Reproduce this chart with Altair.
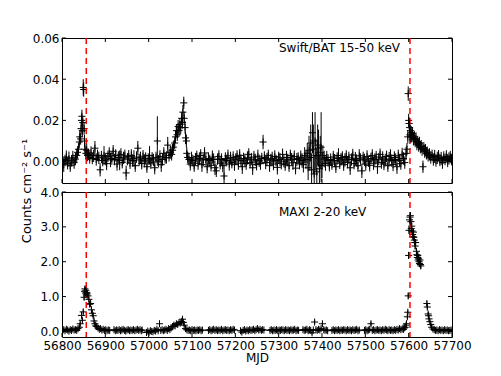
import altair as alt
import pandas as pd

# ---------------- data ----------------
x_ticks = [56800, 56900, 57000, 57100, 57200, 57300, 57400, 57500, 57600, 57700]
bat_ticks = [0.0, 0.02, 0.04, 0.06]
maxi_ticks = [0.0, 1.0, 2.0, 3.0, 4.0]
outburst_mjd = [56856, 57603]

bat_label = "Swift/BAT 15-50 keV"
maxi_label = "MAXI 2-20 keV"
y_title = "Counts cm\u207b\u00b2 s\u207b\u00b9"

bat_mjd = [
    56801, 56804, 56807, 56810, 56813, 56816, 56819, 56822, 56825, 56828,
    56831, 56834, 56836, 56838, 56840, 56841, 56843, 56844, 56845, 56846,
    56847, 56848, 56849, 56850, 56851, 56852, 56853, 56855, 56857, 56859,
    56861, 56864, 56867, 56870, 56873, 56876, 56879, 56882, 56885, 56888,
    56891, 56894, 56897, 56900, 56903, 56906, 56909, 56912, 56915, 56918,
    56921, 56924, 56927, 56930, 56933, 56936, 56939, 56942, 56945, 56948,
    56951, 56954, 56957, 56960, 56963, 56966, 56969, 56972, 56975, 56978,
    56981, 56984, 56987, 56990, 56993, 56996, 56999, 57002, 57005, 57008,
    57011, 57014, 57017, 57020, 57023, 57026, 57029, 57032, 57035, 57038,
    57041, 57044, 57047, 57050, 57053, 57055, 57057, 57060, 57062, 57064,
    57066, 57068, 57070, 57072, 57074, 57076, 57078, 57079, 57081, 57082,
    57084, 57085, 57087, 57088, 57090, 57093, 57096, 57099, 57102, 57105,
    57108, 57111, 57114, 57117, 57120, 57123, 57126, 57129, 57132, 57135,
    57138, 57141, 57144, 57147, 57150, 57153, 57156, 57159, 57162, 57165,
    57168, 57171, 57174, 57177, 57180, 57183, 57186, 57189, 57192, 57195,
    57198, 57201, 57204, 57207, 57210, 57213, 57216, 57219, 57222, 57225,
    57228, 57231, 57234, 57237, 57240, 57243, 57246, 57249, 57252, 57255,
    57258, 57261, 57264, 57267, 57270, 57273, 57276, 57279, 57282, 57285,
    57288, 57291, 57294, 57297, 57300, 57303, 57306, 57309, 57312, 57315,
    57318, 57321, 57324, 57327, 57330, 57333, 57336, 57339, 57342, 57345,
    57348, 57351, 57354, 57357, 57360, 57363, 57366, 57368, 57370, 57372,
    57374, 57376, 57378, 57380, 57382, 57384, 57386, 57388, 57390, 57392,
    57394, 57396, 57398, 57400, 57402, 57405, 57408, 57411, 57414, 57417,
    57420, 57423, 57426, 57429, 57432, 57435, 57438, 57441, 57444, 57447,
    57450, 57453, 57456, 57459, 57462, 57465, 57468, 57471, 57474, 57477,
    57480, 57483, 57486, 57489, 57492, 57495, 57498, 57501, 57504, 57507,
    57510, 57513, 57516, 57519, 57522, 57525, 57528, 57531, 57534, 57537,
    57540, 57543, 57546, 57549, 57552, 57555, 57558, 57561, 57564, 57567,
    57570, 57573, 57576, 57579, 57582, 57585, 57588, 57591, 57594, 57596,
    57598, 57599, 57600, 57601, 57602, 57603, 57604, 57605, 57606, 57607,
    57609, 57611, 57613, 57615, 57617, 57619, 57621, 57623, 57625, 57627,
    57629, 57631, 57633, 57635, 57637, 57639, 57641, 57643, 57645, 57648,
    57651, 57654, 57657, 57660, 57663, 57666, 57669, 57672, 57675, 57678,
    57681, 57684, 57687, 57690, 57693, 57696, 57699,
]

bat_rate = [
    0.0010, -0.0015, 0.0005, 0.0022, -0.0008, 0.0013, -0.0020, 0.0004, 0.0018, -0.0005,
    0.0012, 0.0030, 0.0045, 0.0060, 0.0095, 0.0120, 0.0110, 0.0160, 0.0200, 0.0220,
    0.0150, 0.0190, 0.0360, 0.0350, 0.0160, 0.0100, 0.0060, 0.0040, 0.0055, 0.0030,
    0.0035, 0.0020, 0.0042, 0.0015, 0.0028, 0.0065, 0.0010, 0.0030, 0.0018, -0.0040,
    0.0022, 0.0005, 0.0030, 0.0012, -0.0010, 0.0025, 0.0040, 0.0008, 0.0015, 0.0050,
    0.0010, 0.0030, -0.0012, 0.0020, 0.0006, 0.0035, -0.0005, 0.0018, 0.0028, -0.0055,
    0.0012, 0.0024, -0.0008, 0.0030, 0.0005, 0.0015, -0.0020, 0.0022, 0.0065, 0.0008,
    0.0018, -0.0010, 0.0026, 0.0004, 0.0015, -0.0025, 0.0012, 0.0030, -0.0006, 0.0016,
    0.0008, -0.0030, 0.0020, 0.0100, 0.0002, 0.0025, -0.0015, 0.0010, 0.0040, 0.0018,
    0.0020, 0.0080, 0.0030, 0.0045, 0.0035, 0.0055, 0.0070, 0.0090, 0.0120, 0.0150,
    0.0130, 0.0170, 0.0150, 0.0180, 0.0165, 0.0210, 0.0190, 0.0240, 0.0285, 0.0210,
    0.0165, 0.0115, 0.0100, 0.0040, 0.0020, 0.0010, -0.0012, 0.0018, 0.0005, -0.0020,
    0.0012, 0.0025, -0.0008, 0.0015, 0.0030, -0.0015, 0.0008, 0.0042, 0.0010, -0.0025,
    0.0015, 0.0005, -0.0018, 0.0022, 0.0010, -0.0030, -0.0045, 0.0012, 0.0025, -0.0008,
    0.0010, -0.0020, -0.0070, 0.0015, 0.0005, 0.0028, -0.0012, 0.0018, -0.0005, 0.0020,
    -0.0015, 0.0012, 0.0025, -0.0008, 0.0030, 0.0005, -0.0025, 0.0015, 0.0008, -0.0010,
    0.0018, 0.0035, -0.0005, 0.0012, -0.0030, 0.0022, 0.0008, -0.0015, 0.0026, 0.0004,
    -0.0010, 0.0015, 0.0095, 0.0020, -0.0005, 0.0012, 0.0030, -0.0020, 0.0008, 0.0016,
    -0.0012, 0.0025, 0.0005, -0.0028, 0.0018, 0.0010, -0.0008, 0.0035, 0.0002, -0.0015,
    0.0020, 0.0008, -0.0020, 0.0030, 0.0012, -0.0006, 0.0024, -0.0032, 0.0010, 0.0015,
    -0.0008, 0.0022, 0.0005, -0.0015, 0.0030, 0.0010, 0.0040, -0.0030, 0.0055, 0.0020,
    0.0090, -0.0040, 0.0140, 0.0060, -0.0060, 0.0100, 0.0030, -0.0050, 0.0080, 0.0065,
    -0.0035, 0.0045, 0.0070, -0.0020, 0.0030, 0.0012, -0.0010, 0.0020, 0.0006, -0.0018,
    0.0010, -0.0012, 0.0022, 0.0005, -0.0025, 0.0015, 0.0030, -0.0008, 0.0012, 0.0020,
    -0.0015, 0.0008, 0.0025, -0.0005, 0.0018, -0.0030, 0.0010, 0.0032, -0.0010, 0.0015,
    0.0005, -0.0020, 0.0028, 0.0012, -0.0045, 0.0018, 0.0008, -0.0012, 0.0025, 0.0002,
    -0.0018, 0.0015, 0.0030, -0.0008, 0.0010, 0.0022, -0.0025, 0.0012, 0.0035, -0.0005,
    0.0018, -0.0012, 0.0008, 0.0025, -0.0020, 0.0012, 0.0030, 0.0005, -0.0015, 0.0020,
    0.0010, -0.0025, 0.0028, 0.0006, -0.0010, 0.0035, 0.0015, -0.0005, 0.0040, 0.0060,
    0.0120, 0.0330, 0.0200, 0.0185, 0.0165, 0.0130, 0.0150, 0.0120, 0.0140, 0.0125,
    0.0135, 0.0110, 0.0120, 0.0100, 0.0110, 0.0085, 0.0095, 0.0080, 0.0090, 0.0070,
    0.0075, 0.0060, -0.0025, 0.0065, 0.0050, 0.0055, 0.0040, 0.0045, 0.0030, 0.0035,
    0.0020, 0.0030, 0.0010, 0.0025, 0.0005, 0.0018, 0.0028, 0.0008, 0.0015, -0.0005,
    0.0020, 0.0010, 0.0025, 0.0005, 0.0015, 0.0022, 0.0010,
]

bat_err = [
    0.0030, 0.0035, 0.0028, 0.0032, 0.0030, 0.0036, 0.0030, 0.0028, 0.0034, 0.0030,
    0.0030, 0.0032, 0.0030, 0.0030, 0.0030, 0.0032, 0.0028, 0.0030, 0.0030, 0.0032,
    0.0030, 0.0030, 0.0040, 0.0035, 0.0030, 0.0030, 0.0028, 0.0030, 0.0030, 0.0028,
    0.0028, 0.0030, 0.0032, 0.0028, 0.0030, 0.0035, 0.0030, 0.0028, 0.0030, 0.0032,
    0.0030, 0.0028, 0.0045, 0.0030, 0.0032, 0.0028, 0.0030, 0.0035, 0.0030, 0.0030,
    0.0028, 0.0030, 0.0032, 0.0030, 0.0048, 0.0030, 0.0028, 0.0030, 0.0030, 0.0035,
    0.0030, 0.0032, 0.0028, 0.0030, 0.0030, 0.0040, 0.0030, 0.0028, 0.0035, 0.0030,
    0.0030, 0.0028, 0.0030, 0.0032, 0.0030, 0.0030, 0.0028, 0.0045, 0.0030, 0.0030,
    0.0030, 0.0032, 0.0028, 0.0120, 0.0030, 0.0030, 0.0035, 0.0030, 0.0030, 0.0028,
    0.0030, 0.0040, 0.0030, 0.0032, 0.0030, 0.0030, 0.0032, 0.0030, 0.0030, 0.0032,
    0.0030, 0.0032, 0.0030, 0.0030, 0.0032, 0.0030, 0.0030, 0.0035, 0.0030, 0.0032,
    0.0030, 0.0030, 0.0032, 0.0030, 0.0028, 0.0030, 0.0032, 0.0030, 0.0028, 0.0030,
    0.0030, 0.0028, 0.0032, 0.0030, 0.0030, 0.0035, 0.0030, 0.0028, 0.0030, 0.0032,
    0.0030, 0.0028, 0.0030, 0.0032, 0.0030, 0.0035, 0.0030, 0.0028, 0.0030, 0.0030,
    0.0030, 0.0032, 0.0080, 0.0030, 0.0028, 0.0030, 0.0032, 0.0030, 0.0028, 0.0030,
    0.0030, 0.0028, 0.0030, 0.0032, 0.0030, 0.0030, 0.0035, 0.0028, 0.0030, 0.0030,
    0.0032, 0.0030, 0.0028, 0.0030, 0.0035, 0.0030, 0.0030, 0.0028, 0.0032, 0.0030,
    0.0030, 0.0028, 0.0035, 0.0030, 0.0032, 0.0030, 0.0028, 0.0030, 0.0030, 0.0032,
    0.0030, 0.0030, 0.0028, 0.0035, 0.0030, 0.0032, 0.0030, 0.0028, 0.0030, 0.0030,
    0.0032, 0.0030, 0.0030, 0.0028, 0.0030, 0.0035, 0.0030, 0.0030, 0.0032, 0.0030,
    0.0030, 0.0032, 0.0035, 0.0038, 0.0040, 0.0045, 0.0050, 0.0060, 0.0070, 0.0065,
    0.0090, 0.0080, 0.0100, 0.0120, 0.0090, 0.0140, 0.0080, 0.0110, 0.0100, 0.0090,
    0.0070, 0.0080, 0.0170, 0.0060, 0.0050, 0.0040, 0.0035, 0.0032, 0.0030, 0.0030,
    0.0030, 0.0028, 0.0030, 0.0032, 0.0030, 0.0030, 0.0035, 0.0028, 0.0030, 0.0030,
    0.0030, 0.0032, 0.0030, 0.0028, 0.0030, 0.0035, 0.0030, 0.0030, 0.0028, 0.0032,
    0.0030, 0.0030, 0.0032, 0.0028, 0.0035, 0.0030, 0.0030, 0.0032, 0.0030, 0.0028,
    0.0030, 0.0028, 0.0030, 0.0032, 0.0030, 0.0030, 0.0035, 0.0030, 0.0028, 0.0030,
    0.0032, 0.0030, 0.0030, 0.0028, 0.0030, 0.0035, 0.0030, 0.0030, 0.0032, 0.0030,
    0.0030, 0.0035, 0.0030, 0.0028, 0.0030, 0.0032, 0.0030, 0.0030, 0.0032, 0.0030,
    0.0032, 0.0035, 0.0032, 0.0030, 0.0030, 0.0032, 0.0030, 0.0030, 0.0032, 0.0030,
    0.0030, 0.0032, 0.0030, 0.0030, 0.0032, 0.0030, 0.0030, 0.0032, 0.0030, 0.0030,
    0.0030, 0.0032, 0.0030, 0.0030, 0.0032, 0.0030, 0.0030, 0.0028, 0.0030, 0.0030,
    0.0030, 0.0028, 0.0030, 0.0032, 0.0030, 0.0030, 0.0028, 0.0030, 0.0032, 0.0030,
    0.0030, 0.0028, 0.0030, 0.0032, 0.0030, 0.0030, 0.0028,
]

maxi_mjd = [
    56801, 56804, 56807, 56810, 56813, 56816, 56819, 56822, 56825, 56828,
    56831, 56834, 56837, 56840, 56842, 56845, 56847, 56849, 56851, 56852,
    56853, 56854, 56855, 56856, 56857, 56858, 56860, 56862, 56864, 56866,
    56868, 56870, 56872, 56874, 56876, 56878, 56880, 56883, 56886, 56889,
    56892, 56895, 56898, 56901, 56904, 56907, 56910, 56920, 56923, 56926,
    56929, 56932, 56935, 56938, 56941, 56944, 56947, 56950, 56953, 56956,
    56959, 56962, 56965, 56968, 56971, 56974, 56977, 56980, 56983, 56985,
    56995, 56998, 57001, 57004, 57007, 57010, 57013, 57016, 57019, 57022,
    57025, 57028, 57031, 57034, 57037, 57040, 57043, 57046, 57049, 57052,
    57055, 57058, 57061, 57064, 57067, 57070, 57073, 57076, 57078, 57080,
    57082, 57085, 57088, 57091, 57094, 57097, 57100, 57103, 57106, 57109,
    57112, 57115, 57118, 57121, 57124, 57138, 57141, 57144, 57147, 57150,
    57153, 57156, 57159, 57162, 57165, 57168, 57171, 57174, 57177, 57180,
    57183, 57186, 57189, 57192, 57195, 57198, 57212, 57215, 57218, 57221,
    57224, 57227, 57230, 57233, 57236, 57239, 57242, 57245, 57248, 57251,
    57254, 57257, 57260, 57263, 57266, 57280, 57283, 57286, 57289, 57292,
    57295, 57298, 57301, 57304, 57307, 57310, 57313, 57316, 57319, 57322,
    57325, 57328, 57331, 57334, 57337, 57340, 57343, 57346, 57356, 57359,
    57362, 57365, 57368, 57371, 57374, 57377, 57380, 57383, 57386, 57389,
    57392, 57395, 57398, 57401, 57404, 57407, 57410, 57413, 57423, 57426,
    57429, 57432, 57435, 57438, 57441, 57444, 57447, 57450, 57453, 57456,
    57459, 57462, 57465, 57468, 57471, 57474, 57477, 57480, 57483, 57486,
    57498, 57501, 57504, 57507, 57510, 57513, 57516, 57519, 57522, 57525,
    57528, 57531, 57534, 57537, 57540, 57543, 57546, 57549, 57552, 57555,
    57558, 57561, 57564, 57567, 57570, 57573, 57576, 57579, 57582, 57585,
    57588, 57590, 57592, 57594, 57595, 57597, 57598, 57599, 57600, 57601,
    57602, 57603, 57604, 57605, 57606, 57607, 57608, 57609, 57610, 57611,
    57612, 57613, 57614, 57615, 57616, 57618, 57619, 57620, 57621, 57622,
    57623, 57624, 57625, 57626, 57627, 57628, 57642, 57643, 57645, 57646,
    57647, 57649, 57651, 57653, 57656, 57659, 57662, 57665, 57668, 57671,
    57674, 57677, 57680, 57683, 57686, 57689, 57692, 57695, 57698,
]

maxi_rate = [
    0.03, 0.05, 0.02, 0.06, 0.04, 0.01, 0.05, 0.03, 0.07, 0.04,
    0.05, 0.03, 0.08, 0.12, 0.22, 0.46, 0.32, 0.56, 0.98, 1.15,
    1.22, 1.10, 1.18, 1.05, 1.12, 1.08, 1.02, 0.92, 0.78, 0.80,
    0.62, 0.52, 0.45, 0.30, 0.22, 0.16, 0.14, 0.10, 0.06, 0.08,
    0.04, 0.06, 0.03, 0.05, 0.02, 0.04, 0.03, 0.05, 0.02, 0.04,
    0.03, 0.05, 0.02, 0.04, 0.06, 0.03, 0.01, 0.04, 0.05, 0.02,
    0.04, 0.03, 0.05, 0.02, 0.04, 0.06, 0.03, 0.05, 0.02, 0.04,
    -0.03, 0.01, -0.02, 0.02, 0.00, -0.01, 0.03, 0.01, 0.06, 0.02,
    0.22, 0.03, 0.05, 0.02, 0.04, 0.06, 0.03, 0.08, 0.05, 0.10,
    0.14, 0.18, 0.16, 0.22, 0.20, 0.25, 0.24, 0.28, 0.35, 0.26,
    0.18, 0.08, 0.05, 0.03, 0.04, 0.02, 0.05, 0.03, 0.04, 0.02,
    0.04, 0.03, 0.05, 0.02, 0.04, 0.03, 0.05, 0.02, 0.04, 0.06,
    0.03, 0.05, 0.02, 0.04, 0.03, 0.06, 0.02, 0.04, 0.05, 0.03,
    0.04, 0.02, 0.05, 0.03, 0.06, 0.04, 0.02, -0.02, 0.03, 0.05,
    0.01, 0.04, 0.02, 0.05, 0.03, 0.04, 0.06, 0.02, 0.05, 0.08,
    0.04, 0.06, 0.03, 0.05, 0.04, 0.03, 0.05, 0.02, 0.04, 0.03,
    0.05, 0.02, 0.04, 0.03, 0.05, 0.04, 0.02, 0.05, 0.03, 0.04,
    0.02, 0.05, 0.03, 0.04, 0.06, 0.02, 0.04, 0.03, 0.05, 0.03,
    0.04, 0.06, 0.02, 0.05, 0.03, -0.04, 0.04, 0.27, 0.05, 0.03,
    0.06, 0.04, 0.08, 0.22, 0.05, 0.03, 0.04, 0.02, 0.03, 0.05,
    0.02, 0.04, 0.03, 0.05, 0.02, 0.04, 0.03, 0.05, 0.04, 0.02,
    0.05, 0.03, 0.04, 0.02, 0.05, 0.03, 0.04, 0.06, 0.02, 0.04,
    0.03, 0.05, 0.02, 0.04, 0.06, 0.22, 0.03, 0.05, 0.02, 0.04,
    0.05, 0.03, 0.04, 0.02, 0.05, 0.03, 0.06, 0.04, 0.02, 0.05,
    0.03, 0.04, 0.02, 0.05, 0.03, 0.06, 0.04, 0.08, 0.05, 0.07,
    0.06, 0.10, 0.12, 0.18, 0.22, 0.42, 0.55, 1.02, 2.18, 2.90,
    3.20, 3.28, 3.32, 3.15, 2.95, 3.02, 2.88, 2.78, 2.72, 2.85,
    2.70, 2.62, 2.55, 2.45, 2.55, 2.30, 2.20, 2.12, 2.18, 2.05,
    2.10, 2.00, 1.95, 2.05, 1.92, 1.88, 0.80, 0.70, 0.50, 0.45,
    0.36, 0.28, 0.20, 0.12, 0.07, 0.05, 0.03, 0.04, 0.02, 0.05,
    0.03, 0.04, 0.02, 0.05, 0.03, 0.04, 0.02, 0.03, 0.04,
]

maxi_err = [
    0.04, 0.05, 0.04, 0.04, 0.05, 0.04, 0.04, 0.05, 0.04, 0.04,
    0.04, 0.05, 0.04, 0.05, 0.06, 0.07, 0.06, 0.07, 0.08, 0.08,
    0.08, 0.08, 0.08, 0.08, 0.08, 0.07, 0.07, 0.07, 0.07, 0.06,
    0.06, 0.06, 0.06, 0.05, 0.05, 0.05, 0.05, 0.04, 0.04, 0.04,
    0.04, 0.03, 0.04, 0.05, 0.04, 0.03, 0.04, 0.04, 0.05, 0.04,
    0.03, 0.04, 0.05, 0.04, 0.04, 0.03, 0.04, 0.05, 0.04, 0.04,
    0.04, 0.05, 0.04, 0.03, 0.04, 0.04, 0.05, 0.04, 0.03, 0.04,
    0.05, 0.04, 0.04, 0.05, 0.04, 0.03, 0.04, 0.05, 0.04, 0.04,
    0.05, 0.04, 0.03, 0.04, 0.04, 0.05, 0.04, 0.04, 0.03, 0.04,
    0.05, 0.05, 0.04, 0.05, 0.05, 0.05, 0.04, 0.05, 0.06, 0.05,
    0.05, 0.04, 0.04, 0.03, 0.04, 0.04, 0.05, 0.04, 0.03, 0.04,
    0.04, 0.05, 0.04, 0.03, 0.04, 0.04, 0.05, 0.04, 0.04, 0.03,
    0.04, 0.04, 0.05, 0.04, 0.03, 0.04, 0.04, 0.05, 0.04, 0.04,
    0.03, 0.04, 0.05, 0.04, 0.04, 0.03, 0.04, 0.05, 0.04, 0.04,
    0.04, 0.05, 0.04, 0.03, 0.04, 0.04, 0.05, 0.04, 0.04, 0.03,
    0.04, 0.04, 0.05, 0.04, 0.03, 0.04, 0.04, 0.05, 0.04, 0.04,
    0.03, 0.04, 0.05, 0.04, 0.04, 0.03, 0.04, 0.05, 0.04, 0.04,
    0.04, 0.05, 0.04, 0.03, 0.04, 0.04, 0.05, 0.04, 0.04, 0.03,
    0.04, 0.04, 0.05, 0.04, 0.03, 0.05, 0.04, 0.06, 0.04, 0.04,
    0.05, 0.04, 0.04, 0.06, 0.04, 0.03, 0.04, 0.05, 0.04, 0.04,
    0.04, 0.05, 0.04, 0.03, 0.04, 0.04, 0.05, 0.04, 0.04, 0.03,
    0.04, 0.04, 0.05, 0.04, 0.03, 0.04, 0.04, 0.05, 0.04, 0.04,
    0.03, 0.04, 0.05, 0.04, 0.04, 0.06, 0.04, 0.05, 0.04, 0.04,
    0.04, 0.05, 0.04, 0.03, 0.04, 0.04, 0.05, 0.04, 0.04, 0.03,
    0.04, 0.04, 0.05, 0.04, 0.03, 0.04, 0.04, 0.05, 0.04, 0.04,
    0.04, 0.04, 0.05, 0.05, 0.05, 0.06, 0.06, 0.08, 0.10, 0.10,
    0.10, 0.10, 0.10, 0.10, 0.10, 0.10, 0.09, 0.09, 0.09, 0.09,
    0.09, 0.09, 0.09, 0.09, 0.09, 0.08, 0.08, 0.08, 0.08, 0.08,
    0.08, 0.08, 0.08, 0.08, 0.08, 0.08, 0.07, 0.07, 0.06, 0.06,
    0.06, 0.05, 0.05, 0.05, 0.04, 0.04, 0.04, 0.04, 0.04, 0.04,
    0.04, 0.04, 0.04, 0.04, 0.04, 0.04, 0.04, 0.04, 0.04,
]

# ---------------- styling ----------------
W = 390
H = 145
FONT = "DejaVu Sans"
CROSS = "M-1,0L1,0M0,-1L0,1"
TICK = 4
AX = dict(labelFont=FONT, labelFontSize=12, labelColor="black",
          ticks=False, domain=False, grid=False)

xscale = alt.Scale(domain=[56800, 57700], nice=False, zero=False)


def panel(mjd, rate, err, ydomain, yticks, yfmt, label, label_y, bottom, ytitle=None):
    df = pd.DataFrame({"mjd": mjd, "rate": rate, "err": err})
    yscale = alt.Scale(domain=ydomain, nice=False, zero=False)
    if bottom:
        xaxis = alt.Axis(values=x_ticks, format="d", title="MJD", labelPadding=3,
                         titlePadding=1, labelFlush=False, titleFont=FONT,
                         titleFontSize=12, titleFontWeight="normal", titleColor="black",
                         **AX)
    else:
        xaxis = alt.Axis(values=x_ticks, labels=False, title=None, ticks=False,
                         domain=False, grid=False)
    yaxis = alt.Axis(values=yticks, format=yfmt, title=None, labelPadding=3, **AX)

    X = lambda f: alt.X(f, type="quantitative", scale=xscale, axis=xaxis)
    Y = lambda f: alt.Y(f, type="quantitative", scale=yscale, axis=yaxis)

    base = alt.Chart(df)
    pts = base.mark_point(shape=CROSS, size=50, filled=False, color="black",
                          strokeWidth=1, opacity=1, clip=True).encode(
        x=X("mjd"), y=Y("rate"),
    )
    bars = base.mark_rule(color="black", strokeWidth=1, clip=True).transform_calculate(
        lo="datum.rate - datum.err", hi="datum.rate + datum.err"
    ).encode(x=X("mjd"), y=Y("lo"), y2="hi:Q")
    vlines = alt.Chart(pd.DataFrame({"m": outburst_mjd})).mark_rule(
        color="#ff0000", strokeDash=[6, 4], strokeWidth=1.5
    ).encode(x=X("m"))

    xt = alt.Chart(pd.DataFrame({"t": x_ticks})).mark_rule(color="black", strokeWidth=1)
    xt_top = xt.encode(x=X("t"), y=alt.value(0), y2=alt.value(TICK))
    xt_bot = xt.encode(x=X("t"), y=alt.value(H - TICK), y2=alt.value(H))
    yt = alt.Chart(pd.DataFrame({"t": yticks})).mark_rule(color="black", strokeWidth=1)
    yt_l = yt.encode(y=Y("t"), x=alt.value(0), x2=alt.value(TICK))
    yt_r = yt.encode(y=Y("t"), x=alt.value(W - TICK), x2=alt.value(W))

    txt = alt.Chart(pd.DataFrame({"t": [label]})).mark_text(
        align="left", baseline="alphabetic", fontSize=12, font=FONT, color="black"
    ).encode(x=alt.value(217), y=alt.value(label_y), text="t:N")

    layers = [pts, vlines, bars, xt_top, xt_bot, yt_l, yt_r, txt]
    if ytitle is not None:
        yt_txt = alt.Chart(pd.DataFrame({"t": [ytitle]})).mark_text(
            angle=270, align="center", baseline="middle", fontSize=13, font=FONT, color="black"
        ).encode(x=alt.value(-35), y=alt.value(H + 8), text="t:N")
        layers.append(yt_txt)
    return alt.layer(*layers).properties(width=W, height=H)


top = panel(bat_mjd, bat_rate, bat_err, [-0.0104, 0.06], bat_ticks, ".2f",
            bat_label, 14, False, ytitle=y_title)
bottom = panel(maxi_mjd, maxi_rate, maxi_err, [-0.16, 4.0], maxi_ticks, ".1f",
               maxi_label, 24, True)

chart = alt.vconcat(top, bottom, spacing=9, bounds="flush").properties(
    padding={"left": 12, "top": 23, "right": 5, "bottom": 5},
    background="white",
).configure_view(
    stroke="black", strokeWidth=1
)

chart.save("out.html", embed_options={"renderer": "svg", "actions": False})
